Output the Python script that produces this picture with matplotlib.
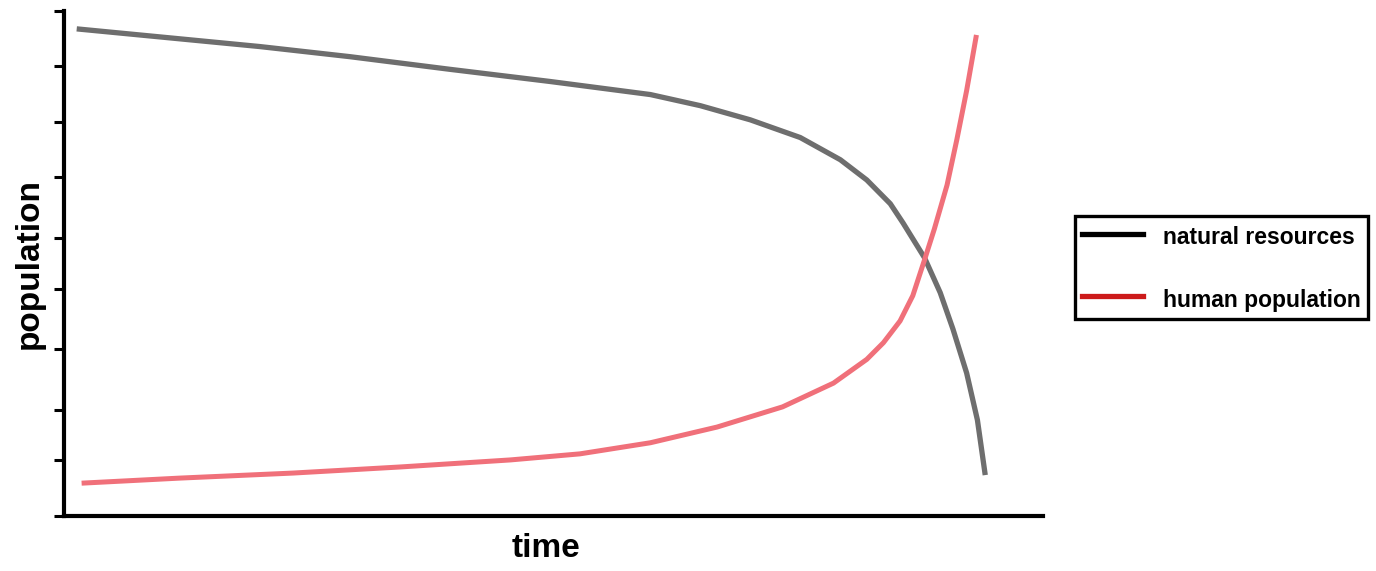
import matplotlib.pyplot as plt

# values (time and population in arbitrary units)
resources_time = [1.3, 20.0, 29.2, 39.4, 49.6, 59.9, 65.0, 70.1, 75.2, 79.3, 82.0, 84.4,
                  85.7, 87.9, 89.5, 90.8, 92.2, 93.3, 94.1]
resources_level = [96.4, 92.9, 90.9, 88.4, 86.0, 83.4, 81.2, 78.4, 74.9, 70.5, 66.5, 61.8,
                   58.0, 51.1, 44.2, 37.0, 28.3, 19.0, 8.1]

human_time = [1.8, 11.8, 23.4, 34.3, 45.6, 52.7, 59.9, 66.7, 73.4, 78.6, 82.0, 83.7,
              85.4, 86.7, 87.9, 88.9, 90.2, 91.2, 92.2, 93.2]
human_level = [6.5, 7.5, 8.5, 9.7, 11.1, 12.3, 14.5, 17.6, 21.6, 26.3, 31.0, 34.3,
               38.6, 43.6, 50.7, 56.8, 65.5, 74.5, 84.2, 95.2]

ytick_values = [0, 11, 21, 33, 45, 55, 67, 78, 89, 100]

plt.rcParams['font.family'] = ['Liberation Sans', 'DejaVu Sans']

fig = plt.figure(figsize=(13.76, 5.71), dpi=100)
ax = fig.add_axes([0.0465, 0.0963, 0.7115, 0.885])

ax.plot(resources_time, resources_level, color='#6e6e6e', linewidth=3.8,
        solid_capstyle='butt', solid_joinstyle='round')
ax.plot(human_time, human_level, color='#f0707a', linewidth=3.6,
        solid_capstyle='butt', solid_joinstyle='round')

ax.set_xlim(0, 100)
ax.set_ylim(0, 100)
ax.set_xticks([])
ax.set_yticks(ytick_values)
ax.set_yticklabels([])
ax.tick_params(axis='y', direction='out', length=7, width=2.2, color='black')

for side in ['top', 'right']:
    ax.spines[side].set_visible(False)
for side in ['left', 'bottom']:
    ax.spines[side].set_linewidth(3)

ax.set_xlabel('time', fontsize=24, fontweight='bold', va='center')
ax.set_ylabel('population', fontsize=24, fontweight='bold', va='center')
ax.xaxis.set_label_coords(0.492, -0.064)
ax.yaxis.set_label_coords(-0.035, 0.5)

# legend handles in the pure colours, as in the reference
h1, = ax.plot([], [], color='black', linewidth=3.8, label='natural resources')
h2, = ax.plot([], [], color='#cc1a1a', linewidth=3.8, label='human population')
leg = fig.legend(handles=[h1, h2], loc='center left', bbox_to_anchor=(0.781, 0.531),
                 prop={'weight': 'bold', 'size': 16.5},
                 frameon=True, fancybox=False, edgecolor='black', framealpha=1,
                 labelspacing=1.57, handlelength=2.7, handleheight=1.4,
                 handletextpad=0.85, borderpad=0.3, borderaxespad=0)
leg.get_frame().set_linewidth(2.4)

fig.savefig('out.png', dpi=100, facecolor='white')
